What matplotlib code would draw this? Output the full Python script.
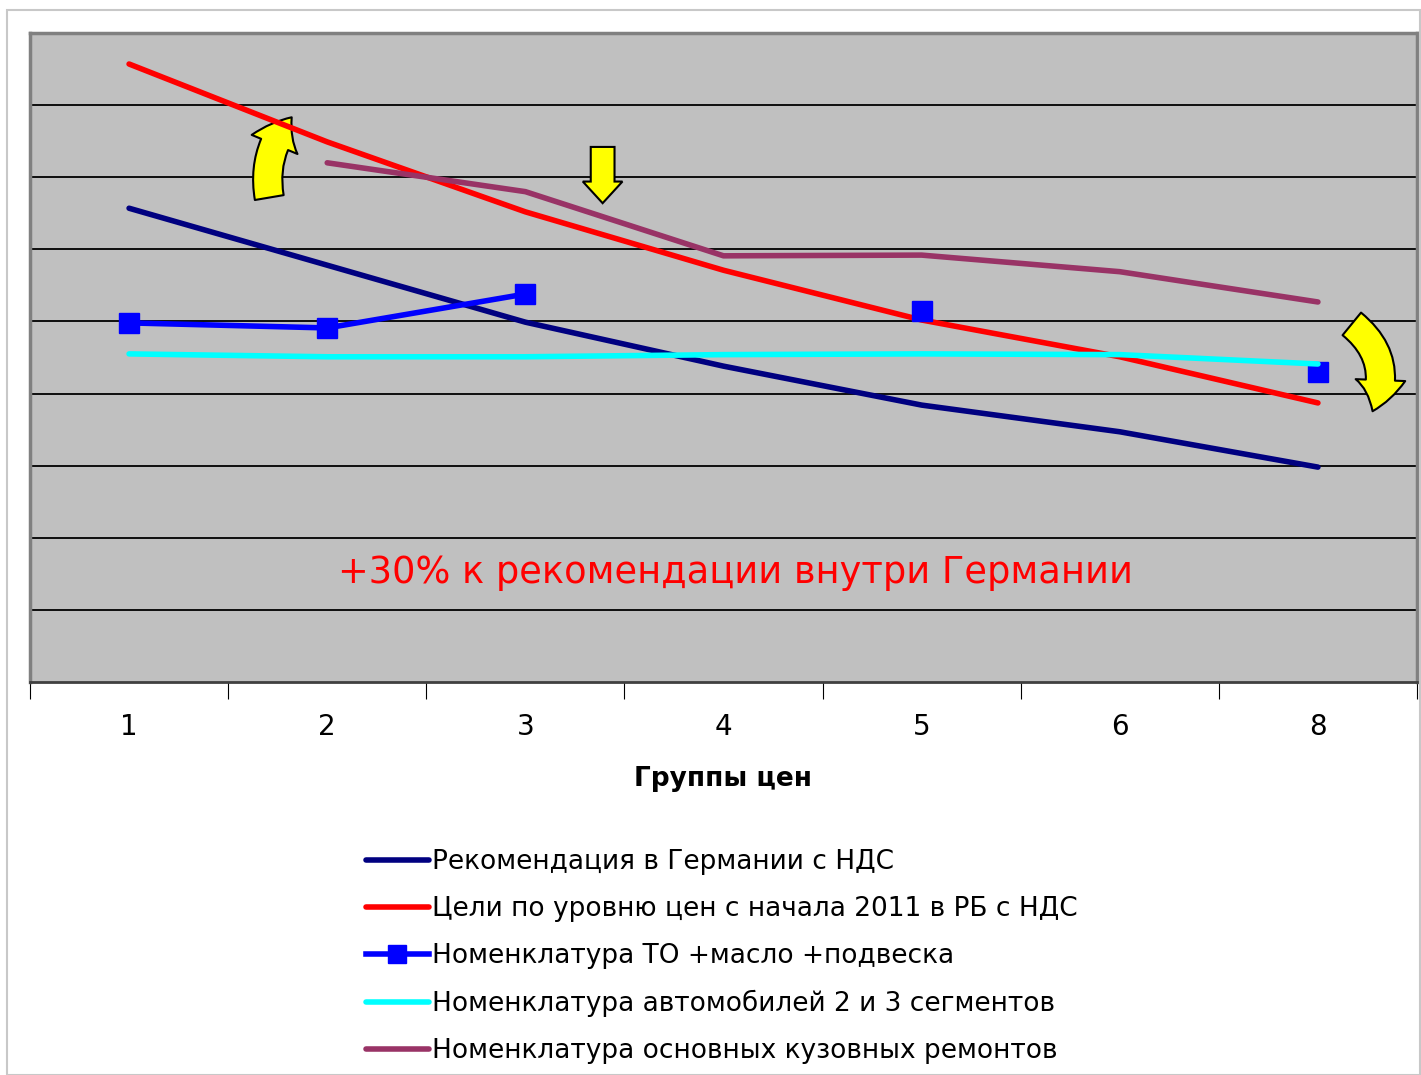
import numpy as np
import matplotlib
matplotlib.use("Agg")
import matplotlib.pyplot as plt
from matplotlib.patches import FancyArrowPatch, FancyArrow, Rectangle

groups = ["1", "2", "3", "4", "5", "6", "8"]

germany = [6.57, 5.78, 4.99, 4.38, 3.84, 3.47, 2.98]
targets_rb = [8.57, 7.49, 6.52, 5.71, 5.02, 4.51, 3.87]
to_oil = [4.98, 4.91, 5.38, np.nan, 5.15, np.nan, 4.30]
cars = [4.55, 4.51, 4.51, 4.54, 4.55, 4.54, 4.41]
body = [np.nan, 7.20, 6.80, 5.91, 5.92, 5.69, 5.27]

labels = [
    "Рекомендация в Германии с НДС",
    "Цели по уровню цен с начала 2011 в РБ с НДС",
    "Номенклатура ТО +масло +подвеска",
    "Номенклатура автомобилей 2 и 3 сегментов",
    "Номенклатура основных кузовных ремонтов",
]

plt.rcParams['font.family'] = ['DejaVu Sans']

fig = plt.figure(figsize=(14.21, 10.75), dpi=100)
fig.patches.append(Rectangle((7 / 1421, 0), 1 - 8 / 1421, 1 - 10 / 1075,
                             transform=fig.transFigure, fill=False,
                             edgecolor="#c8c8c8", lw=1.5))

ax = fig.add_axes([30 / 1421, 1 - 682 / 1075, 1387 / 1421, 649 / 1075])
ax.set_facecolor("#c0c0c0")
x = np.arange(len(groups))

ax.plot(x, germany, color="#000080", lw=4, label=labels[0], solid_capstyle="round")
ax.plot(x, targets_rb, color="#ff0000", lw=4, label=labels[1], solid_capstyle="round")
ax.plot(x, to_oil, color="#0000ff", lw=4, marker="s", markersize=15,
        label=labels[2])
ax.plot(x, cars, color="#00ffff", lw=4, label=labels[3], solid_capstyle="round")
ax.plot(x, body, color="#993366", lw=4, label=labels[4], solid_capstyle="round")

ax.set_xlim(-0.5, 6.5)
ax.set_ylim(0, 9)
ax.set_yticks(range(1, 9))
ax.yaxis.grid(True, color="black", lw=1.3)
ax.set_axisbelow(True)
ax.tick_params(axis="y", left=False, labelleft=False)
ax.set_xticks(np.arange(-0.5, 7, 1))
ax.set_xticklabels([])
ax.set_xticks(x, minor=True)
ax.set_xticklabels(groups, minor=True, fontsize=20)
ax.tick_params(axis="x", which="major", direction="out", length=12, color="black")
ax.tick_params(axis="x", which="minor", length=0, pad=22)
ax.set_xlabel("Группы цен", fontsize=19, fontweight="bold", labelpad=18)
for s in ["top", "left", "right"]:
    ax.spines[s].set_color("#808080")
    ax.spines[s].set_linewidth(2.5)
ax.spines["bottom"].set_color("#404040")
ax.spines["bottom"].set_linewidth(2)

ax.text(3.06, 1.52, "+30% к рекомендации внутри Германии", color="#ff0000",
        fontsize=26.5, ha="center", va="center")

# yellow arrows
up = FancyArrowPatch((0.71, 6.68), (0.83, 7.86), connectionstyle="arc3,rad=-0.25",
                     arrowstyle="simple,head_width=1.7,head_length=1.1,tail_width=1.0",
                     mutation_scale=21, facecolor="#ffff00", edgecolor="black", lw=1.5)
ax.add_patch(up)
right = FancyArrowPatch((6.16, 4.99), (6.27, 3.72), connectionstyle="arc3,rad=-0.4",
                        arrowstyle="simple,head_width=1.7,head_length=1.1,tail_width=1.0",
                        mutation_scale=21, facecolor="#ffff00", edgecolor="black", lw=1.5)
ax.add_patch(right)
down = FancyArrow(2.39, 7.42, 0, -0.78, width=0.12, head_width=0.2, head_length=0.3,
                  length_includes_head=True, facecolor="#ffff00", edgecolor="black", lw=1.5)
ax.add_patch(down)

handles, labs = ax.get_legend_handles_labels()
fig.legend(handles, labs, loc="upper left", bbox_to_anchor=(342 / 1421, 1 - 825 / 1075),
           frameon=False, fontsize=19, handlelength=2.4, handletextpad=0.1,
           labelspacing=0.8, markerscale=0.9)

fig.savefig("out.png", dpi=100, facecolor="white")
